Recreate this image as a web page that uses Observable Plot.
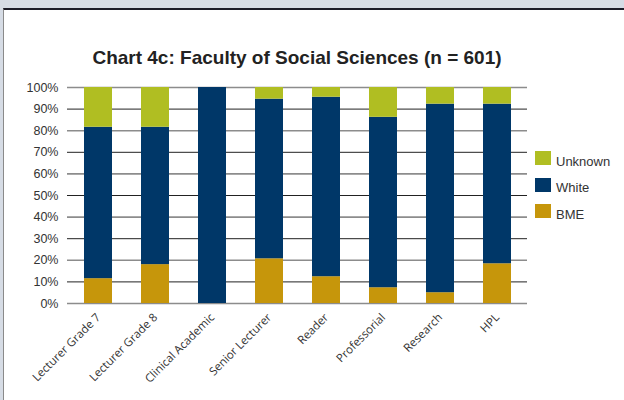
<!DOCTYPE html>
<html>
<head>
<meta charset="utf-8">
<script src="https://cdn.jsdelivr.net/npm/d3@7"></script>
<script src="https://cdn.jsdelivr.net/npm/@observablehq/plot@0.6"></script>
<style>
  html, body { margin: 0; padding: 0; background: #d6dce5; }
  #wrap { position: relative; width: 624px; height: 400px; overflow: hidden; background: #d6dce5; }
  #panel { position: absolute; left: 3px; top: 8px; right: 0; bottom: 0; background: #fff;
           border-top: 2px solid #1c1c28; border-left: 1px solid #8a8a8a; }
  #chart { position: absolute; left: 0; top: 0; }
  #title { position: absolute; left: 0; width: 594px; top: 47px; text-align: center;
           font: bold 19px "Liberation Sans", Arial, sans-serif; color: #222; }
  #legend { position: absolute; left: 535px; top: 151px; font: 13px "Liberation Sans", Arial, sans-serif; color: #333; }
  .item { display: flex; align-items: center; height: 14px; margin-bottom: 12.5px; }
  .item span { position: relative; top: 3px; }
  .sw { width: 16px; height: 14px; margin-right: 5px; }
</style>
</head>
<body>
<div id="wrap">
  <div id="panel"></div>
  <div id="chart"></div>
  <div id="title">Chart 4c: Faculty of Social Sciences (n = 601)</div>
  <div id="legend"></div>
</div>
<script>
const categories = ["Lecturer Grade 7", "Lecturer Grade 8", "Clinical Academic", "Senior Lecturer", "Reader", "Professorial", "Research", "HPL"];
const series = ["BME", "White", "Unknown"];
const bme     = [11.5, 18.0, 0,   20.7, 12.4, 7.3,  5.0,  18.4];
const white   = [70.1, 63.6, 100, 73.9, 83.1, 78.9, 87.3, 73.9];
const unknown = [18.4, 18.4, 0,   5.4,  4.5,  13.8, 7.7,  7.7];
const colors  = ["#c6960b", "#003768", "#b0be22"];
const yTicks  = [0, 0.1, 0.2, 0.3, 0.4, 0.5, 0.6, 0.7, 0.8, 0.9, 1];

const valuesBySeries = {BME: bme, White: white, Unknown: unknown};
const data = [];
categories.forEach((c, i) => {
  series.forEach(s => data.push({category: c, series: s, value: valuesBySeries[s][i] / 100}));
});

const evenTicks = yTicks.filter((d, i) => i % 2 === 0);
const oddTicks = yTicks.filter((d, i) => i % 2 === 1);

const chart = Plot.plot({
  width: 624,
  height: 400,
  marginLeft: 67,
  marginRight: 97,
  marginTop: 87,
  marginBottom: 97,
  style: {background: "transparent", fontFamily: "Liberation Sans, Arial, sans-serif"},
  x: {domain: categories, paddingInner: 0.51, paddingOuter: 0.255, label: null},
  y: {domain: [0, 1], label: null},
  color: {domain: series, range: colors},
  marks: [
    Plot.ruleY(evenTicks, {stroke: "#8c8c8c", strokeWidth: 1.6}),
    Plot.ruleY(oddTicks, {stroke: "#222", strokeWidth: 1}),
    Plot.barY(data, {x: "category", y: "value", fill: "series", order: series}),
    Plot.axisY(yTicks, {tickSize: 0, tickPadding: 9, tickFormat: d => Math.round(d * 100) + "%",
      fontSize: 12.5, fill: "#333", label: null}),
    Plot.axisX({tickSize: 0, tickPadding: 12, tickRotate: -45, fontSize: 11.5,
      fontFamily: "Open Sans", fill: "#333", label: null})
  ]
});
document.getElementById("chart").appendChild(chart);

const legend = document.getElementById("legend");
[...series].reverse().forEach(s => {
  const item = document.createElement("div");
  item.className = "item";
  const sw = document.createElement("div");
  sw.className = "sw";
  sw.style.background = colors[series.indexOf(s)];
  const label = document.createElement("span");
  label.textContent = s;
  item.appendChild(sw);
  item.appendChild(label);
  legend.appendChild(item);
});
</script>
</body>
</html>
